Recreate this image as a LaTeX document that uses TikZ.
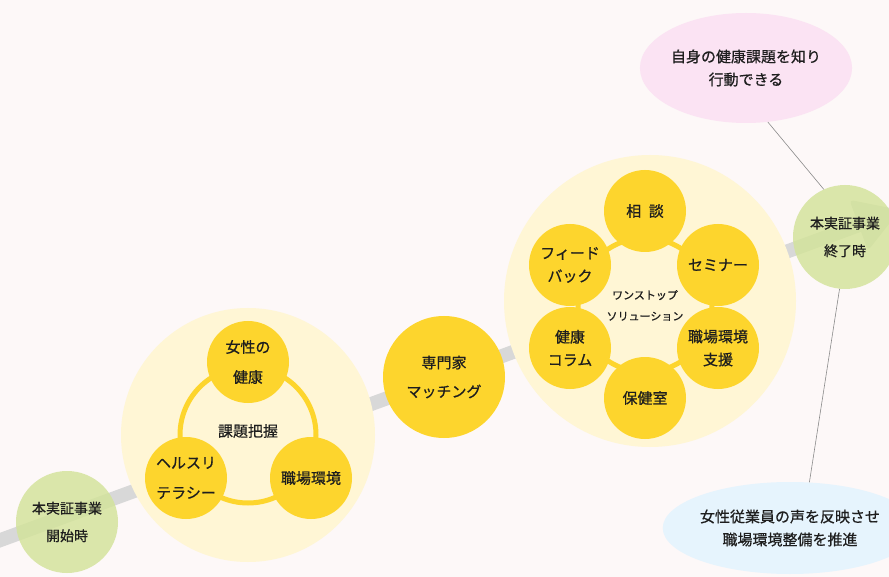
\documentclass[tikz,border=0pt]{standalone}
\usepackage{fontspec}
\setmainfont{Noto Sans CJK JP}[FakeBold=0.7]
\usetikzlibrary{shapes.geometric}
\definecolor{bgc}{HTML}{FDF8F8}
\definecolor{yel}{HTML}{FDD52D}
\definecolor{lyel}{HTML}{FFF6D5}
\definecolor{grn}{HTML}{D3E399}
\definecolor{pnk}{HTML}{FBE3F3}
\definecolor{blu}{HTML}{E6F4FD}
\definecolor{bandc}{HTML}{D8D8D8}
\definecolor{txt}{HTML}{1E1E1E}
\definecolor{thin}{HTML}{8A8A8A}
\begin{document}
\begin{tikzpicture}[x=1pt,y=-1pt,
  bigc/.style={circle,fill=lyel,inner sep=0pt,minimum size=#1},
  ybub/.style={circle,fill=yel,inner sep=0pt,minimum size=82pt,align=center,text=txt,font=\fontsize{15}{30}\selectfont},
  hbub/.style={circle,fill=yel,inner sep=0pt,minimum size=82pt,align=center,text=txt,font=\fontsize{15}{23}\selectfont},
  gbub/.style={circle,fill=grn,fill opacity=0.82,text opacity=1,inner sep=0pt,minimum size=#1,align=center,text=txt,font=\fontsize{14}{27.5}\selectfont},
  ell/.style={ellipse,inner sep=0pt,align=center,text=txt,font=\fontsize{15}{23}\selectfont},
  ringc/.style={circle,draw=yel,line width=5pt,inner sep=0pt,minimum size=#1},
  lbl/.style={text=txt,inner sep=0pt},
  thinline/.style={draw=thin,line width=0.6pt}
]
\useasboundingbox[fill=bgc] (0,0) rectangle (889,577);
% band with arrow head
\coordinate (bandstart) at (-10,543.9);
\coordinate (bandend) at (858.7,225.2);
\coordinate (tipA) at (849.4,199.8);
\coordinate (tipT) at (900,210);
\coordinate (tipB) at (868,250.6);
\draw[bandc,line width=14pt] (bandstart) -- (bandend);
\fill[bandc,rounded corners=4pt] (tipA) -- (tipT) -- (tipB) -- cycle;
% cluster 1
\node[bigc=254pt] (big1) at (248,435) {};
\node[ringc=136pt] (ring1) at (248,435) {};
\node[ybub] (joshi) at (248,362) {女性の\\健康};
\node[ybub] (health) at (186,478) {ヘルスリ\\テラシー};
\node[ybub] (shoku) at (311,478) {職場環境};
\node[lbl,font=\fontsize{15}{20}\selectfont] (kadai) at (248,431) {課題把握};
% matching
\node[circle,fill=yel,inner sep=0pt,minimum size=122pt,align=center,text=txt,font=\fontsize{15}{29}\selectfont] (match) at (444,377) {専門家\\マッチング};
% cluster 2
\node[bigc=292pt] (big2) at (650,301) {};
\node[ringc=134pt] (ring2) at (645,305) {};
\node[hbub] (sodan) at (645,211) {相\hspace{0.5em}談};
\node[hbub] (semi) at (718,265) {セミナー};
\node[hbub] (shien) at (718,348) {職場環境\\支援};
\node[hbub] (hoken) at (645,398) {保健室};
\node[hbub] (column) at (570,348) {健康\\コラム};
\node[hbub] (feed) at (570,265) {フィード\\バック};
\node[lbl,font=\fontsize{11}{21}\selectfont,align=center] (onestop) at (645,305.5) {ワンストップ\\ソリューション};
% start / end
\node[gbub=102pt] (startc) at (67,522) {本実証事業\\開始時};
\node[gbub=104pt] (endc) at (845,237) {本実証事業\\終了時};
% outcome ellipses
\node[ell,fill=pnk,minimum width=176pt,minimum height=110pt] (pink) at (746,68) {自身の健康課題を知り\\行動できる};
\node[ell,fill=blu,minimum width=220pt,minimum height=92pt] (blue) at (790,528) {女性従業員の声を反映させ\\職場環境整備を推進};
% connectors
\draw[thinline] (pink.-68) -- (endc.114);
\draw[thinline] (blue.67) -- (endc.-96);
\end{tikzpicture}
\end{document}
